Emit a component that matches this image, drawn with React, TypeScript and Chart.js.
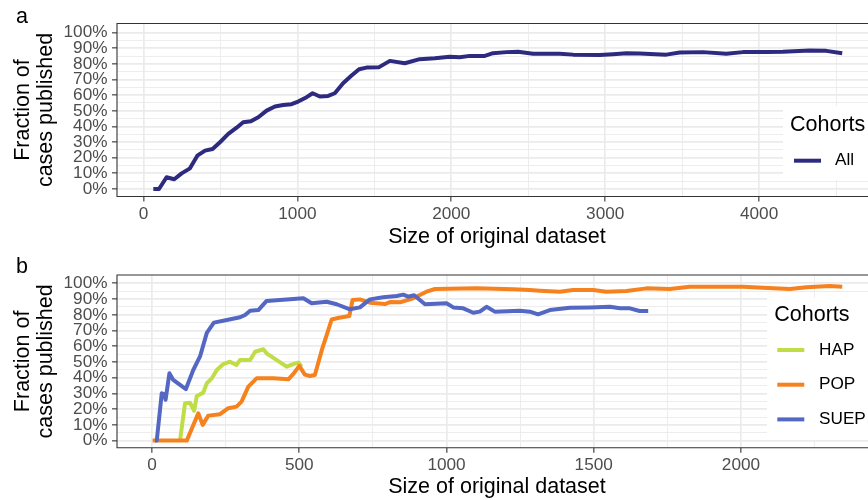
import React, { useEffect, useRef } from 'react';
import { Chart, registerables } from 'chart.js';

Chart.register(...registerables);

const FONT = '"Liberation Sans", Arial, Helvetica, sans-serif';

// ---------- Panel a : all cohorts ----------
const allSize = [64, 101, 150, 200, 248, 302, 350, 400, 449, 497, 551, 605, 648, 698, 746, 800, 854, 908, 962, 1005, 1060, 1099, 1146, 1200, 1243, 1297, 1352, 1401, 1449, 1531, 1601, 1698, 1795, 1893, 1990, 2055, 2120, 2218, 2271, 2359, 2434, 2531, 2705, 2791, 2964, 3051, 3138, 3224, 3397, 3484, 3635, 3787, 3895, 4047, 4155, 4328, 4436, 4540];
const allFrac = [0, 0, 7.5, 6.2, 10, 13.2, 21.3, 24.5, 25.6, 29.9, 35.2, 39.2, 42.7, 43.3, 45.9, 50.1, 52.7, 53.7, 54.2, 55.9, 58.7, 61.2, 59.1, 59.5, 61.2, 67.6, 72.5, 76.6, 77.6, 77.9, 81.9, 80.4, 83.0, 83.6, 84.6, 84.2, 85.1, 85.1, 86.8, 87.5, 87.7, 86.4, 86.4, 85.9, 85.7, 86.2, 86.8, 86.6, 85.9, 87.2, 87.5, 86.4, 87.5, 87.5, 87.7, 88.5, 88.3, 86.8];

// ---------- Panel b : by cohort ----------
const hapSize = [95, 112, 129, 143, 152, 174, 186, 203, 220, 242, 265, 287, 299, 333, 350, 378, 389, 457, 480, 497, 508];
const hapFrac = [0, 23.8, 24.1, 19.0, 28.4, 30.5, 36.5, 39.6, 44.9, 48.7, 50.2, 48.1, 51.3, 51.3, 56.5, 58.1, 55.5, 47, 48.7, 49.6, 47];

const popSize = [2, 118, 157, 172, 191, 231, 259, 287, 304, 327, 355, 412, 463, 480, 500, 519, 536, 553, 578, 593, 610, 635, 670, 681, 706, 740, 791, 808, 842, 887, 932, 961, 1102, 1226, 1283, 1317, 1385, 1430, 1498, 1543, 1611, 1679, 1758, 1826, 2007, 2075, 2166, 2222, 2301, 2344];
const popFrac = [0, 0, 17.4, 10, 15.9, 16.8, 20.6, 21.6, 24.8, 34.3, 39.6, 39.6, 39, 42.4, 47.5, 42, 41.1, 41.7, 58.5, 67, 77, 78.1, 79.2, 89.4, 89.8, 87.7, 86.8, 88.1, 87.9, 90.5, 94.7, 96.4, 96.8, 96.2, 95.7, 95.3, 94.7, 95.7, 95.7, 94.7, 95.1, 96.8, 96.4, 97.8, 97.8, 97.2, 96.4, 97.5, 98.3, 97.8];

const suepSize = [10, 16, 33, 41, 46, 59, 72, 115, 140, 163, 186, 210, 254, 299, 316, 333, 361, 389, 434, 514, 542, 593, 627, 672, 706, 740, 785, 831, 853, 870, 890, 927, 1000, 1023, 1057, 1091, 1113, 1136, 1164, 1249, 1283, 1311, 1351, 1419, 1487, 1555, 1589, 1623, 1656, 1685];
const suepFrac = [0, 0, 30.1, 29.5, 26, 42.8, 38.6, 32.8, 44.9, 53.5, 68.5, 75, 76.7, 78.4, 79.9, 82.6, 83, 88.8, 89.4, 90.5, 87.3, 88.3, 86.7, 83.5, 84.7, 89.8, 91.1, 91.9, 92.8, 91.5, 92.4, 86.7, 87.3, 84.7, 84.1, 81.3, 82, 85.1, 82, 82.6, 82, 80.3, 83, 84.5, 84.7, 85.1, 84.1, 84.1, 82.4, 82.4];

// ---------- ticks ----------
const yTicks = [0, 5, 10, 15, 20, 25, 30, 35, 40, 45, 50, 55, 60, 65, 70, 75, 80, 85, 90, 95, 100];
const yMajorStep = 10;
const xTicksA = [0, 500, 1000, 1500, 2000, 2500, 3000, 3500, 4000, 4500];
const xMajorA = 1000;
const xTicksB = [0, 250, 500, 750, 1000, 1250, 1500, 1750, 2000, 2250];
const xMajorB = 500;

const COLORS: Record<string, string> = {
  All: '#2E2A80',
  HAP: '#BFDD47',
  POP: '#F5821F',
  SUEP: '#5467C3',
};

const CANVAS_W = 877;
const CANVAS_H = 250;

const zip = (xs: number[], ys: number[]) => xs.map((x, i) => ({ x, y: ys[i] }));

type LegendSpec = {
  bx: number; by: number; bw: number; bh: number;
  tx: number; ty: number;
  kx: number; ky: number; step: number; lx: number;
  labels: string[];
};

function panelPlugin(letter: string, legend: LegendSpec) {
  return {
    id: 'panel-' + letter,
    afterDraw(chart: any) {
      const { ctx, chartArea } = chart;
      const { left, top, right, bottom } = chartArea;
      ctx.save();
      // legend (inside the panel)
      ctx.fillStyle = '#FFFFFF';
      ctx.fillRect(legend.bx, legend.by, legend.bw, legend.bh);
      ctx.fillStyle = '#000000';
      ctx.textAlign = 'left';
      ctx.textBaseline = 'alphabetic';
      ctx.font = `21.5px ${FONT}`;
      ctx.fillText('Cohorts', legend.tx, legend.ty);
      legend.labels.forEach((lab, i) => {
        const ds = chart.data.datasets.find((d: any) => d.label === lab);
        const y = legend.ky + i * legend.step;
        ctx.strokeStyle = ds ? ds.borderColor : '#000';
        ctx.lineWidth = 4;
        ctx.lineCap = 'butt';
        ctx.beginPath();
        ctx.moveTo(legend.kx, y);
        ctx.lineTo(legend.kx + 27, y);
        ctx.stroke();
        ctx.fillStyle = '#000000';
        ctx.font = `17.2px ${FONT}`;
        ctx.textBaseline = 'middle';
        ctx.fillText(lab, legend.lx, y);
      });
      // panel border
      ctx.strokeStyle = '#333333';
      ctx.lineWidth = 1.1;
      ctx.beginPath();
      ctx.moveTo(right + 2, top);
      ctx.lineTo(left, top);
      ctx.lineTo(left, bottom);
      ctx.lineTo(right + 2, bottom);
      ctx.stroke();
      // panel tag
      ctx.fillStyle = '#000000';
      ctx.font = `21.5px ${FONT}`;
      ctx.textBaseline = 'alphabetic';
      ctx.fillText(letter, 16, 23.3);
      ctx.restore();
    },
  };
}

function makeConfig(opts: {
  datasets: any[];
  xMin: number; xMax: number; xTicks: number[]; xMajor: number;
  yMin: number; yMax: number;
  areaTop: number; areaBottom: number;
  letter: string; legend: LegendSpec;
}) {
  const tickFont = { family: FONT, size: 17.2 };
  return {
    type: 'line' as const,
    data: { datasets: opts.datasets },
    plugins: [panelPlugin(opts.letter, opts.legend)],
    options: {
      responsive: false,
      animation: false as const,
      events: [],
      layout: { padding: { left: 0, top: opts.areaTop, right: 0, bottom: 0 } },
      plugins: {
        legend: { display: false },
        tooltip: { enabled: false },
        title: { display: false },
      },
      elements: { point: { radius: 0 } },
      scales: {
        x: {
          type: 'linear' as const,
          min: opts.xMin,
          max: opts.xMax,
          afterFit: (s: any) => { s.height = CANVAS_H - opts.areaBottom; },
          afterBuildTicks: (s: any) => { s.ticks = opts.xTicks.map((v) => ({ value: v })); },
          ticks: {
            autoSkip: false,
            maxRotation: 0,
            padding: 2,
            color: '#4D4D4D',
            font: tickFont,
            callback: (v: any) => (Number(v) % opts.xMajor === 0 ? String(v) : ''),
          },
          grid: {
            color: '#EBEBEB',
            lineWidth: (c: any) => (c.tick && c.tick.value % opts.xMajor === 0 ? 1.7 : 0.9),
            drawTicks: true,
            tickLength: 5,
            tickWidth: 1.1,
            tickColor: (c: any) => (c.tick && c.tick.value % opts.xMajor === 0 ? '#333333' : 'rgba(0,0,0,0)'),
          },
          border: { display: false },
          title: {
            display: true,
            text: 'Size of original dataset',
            color: '#000000',
            font: { family: FONT, size: 21.5, lineHeight: 1.2 },
            padding: { top: 0, bottom: 0 },
          },
        },
        y: {
          type: 'linear' as const,
          min: opts.yMin,
          max: opts.yMax,
          afterFit: (s: any) => { s.width = 117; },
          afterBuildTicks: (s: any) => { s.ticks = yTicks.map((v) => ({ value: v })); },
          ticks: {
            autoSkip: false,
            padding: 4.5,
            color: '#4D4D4D',
            font: tickFont,
            callback: (v: any) => (Number(v) % yMajorStep === 0 ? v + '%' : ''),
          },
          grid: {
            color: '#EBEBEB',
            lineWidth: (c: any) => (c.tick && c.tick.value % yMajorStep === 0 ? 1.7 : 0.9),
            drawTicks: true,
            tickLength: 5,
            tickWidth: 1.1,
            tickColor: (c: any) => (c.tick && c.tick.value % yMajorStep === 0 ? '#333333' : 'rgba(0,0,0,0)'),
          },
          border: { display: false },
          title: {
            display: true,
            text: ['Fraction of', 'cases published'],
            color: '#000000',
            font: { family: FONT, size: 21.5, lineHeight: 1.05 },
            padding: { top: 11.8, bottom: 0 },
          },
        },
      },
    },
  };
}

function lineDs(label: string, xs: number[], ys: number[], order: number) {
  return {
    label,
    data: zip(xs, ys),
    borderColor: COLORS[label],
    backgroundColor: COLORS[label],
    borderWidth: 4,
    pointRadius: 0,
    tension: 0,
    fill: false,
    borderJoinStyle: 'round' as const,
    borderCapStyle: 'butt' as const,
    order,
  };
}

export default function App() {
  const refA = useRef<HTMLCanvasElement>(null);
  const refB = useRef<HTMLCanvasElement>(null);

  useEffect(() => {
    const cfgA = makeConfig({
      datasets: [lineDs('All', allSize, allFrac, 0)],
      xMin: -172, xMax: 4766, xTicks: xTicksA, xMajor: xMajorA,
      yMin: -4.8, yMax: 105.8,
      areaTop: 23.5, areaBottom: 196.5,
      letter: 'a',
      legend: { bx: 783, by: 106, bw: 100, bh: 74, tx: 790, ty: 130.7, kx: 794, ky: 160.7, step: 34.7, lx: 835, labels: ['All'] },
    });
    const cfgB = makeConfig({
      datasets: [
        lineDs('HAP', hapSize, hapFrac, 2),
        lineDs('POP', popSize, popFrac, 1),
        lineDs('SUEP', suepSize, suepFrac, 0),
      ],
      xMin: -119, xMax: 2462, xTicks: xTicksB, xMajor: xMajorB,
      yMin: -4.5, yMax: 105.3,
      areaTop: 25, areaBottom: 197.7,
      letter: 'b',
      legend: { bx: 767, by: 48, bw: 120, bh: 142, tx: 774.3, ty: 70.7, kx: 777.3, ky: 100, step: 34.7, lx: 819, labels: ['HAP', 'POP', 'SUEP'] },
    });
    const a = new Chart(refA.current as HTMLCanvasElement, cfgA as any);
    const b = new Chart(refB.current as HTMLCanvasElement, cfgB as any);
    return () => {
      a.destroy();
      b.destroy();
    };
  }, []);

  return (
    <div style={{ position: 'fixed', left: 0, top: 0, width: 868, height: 500, overflow: 'hidden', background: '#FFFFFF' }}>
      <canvas ref={refA} width={CANVAS_W} height={CANVAS_H} style={{ position: 'absolute', left: 0, top: 0, width: CANVAS_W, height: CANVAS_H }} />
      <canvas ref={refB} width={CANVAS_W} height={CANVAS_H} style={{ position: 'absolute', left: 0, top: CANVAS_H, width: CANVAS_W, height: CANVAS_H }} />
    </div>
  );
}
